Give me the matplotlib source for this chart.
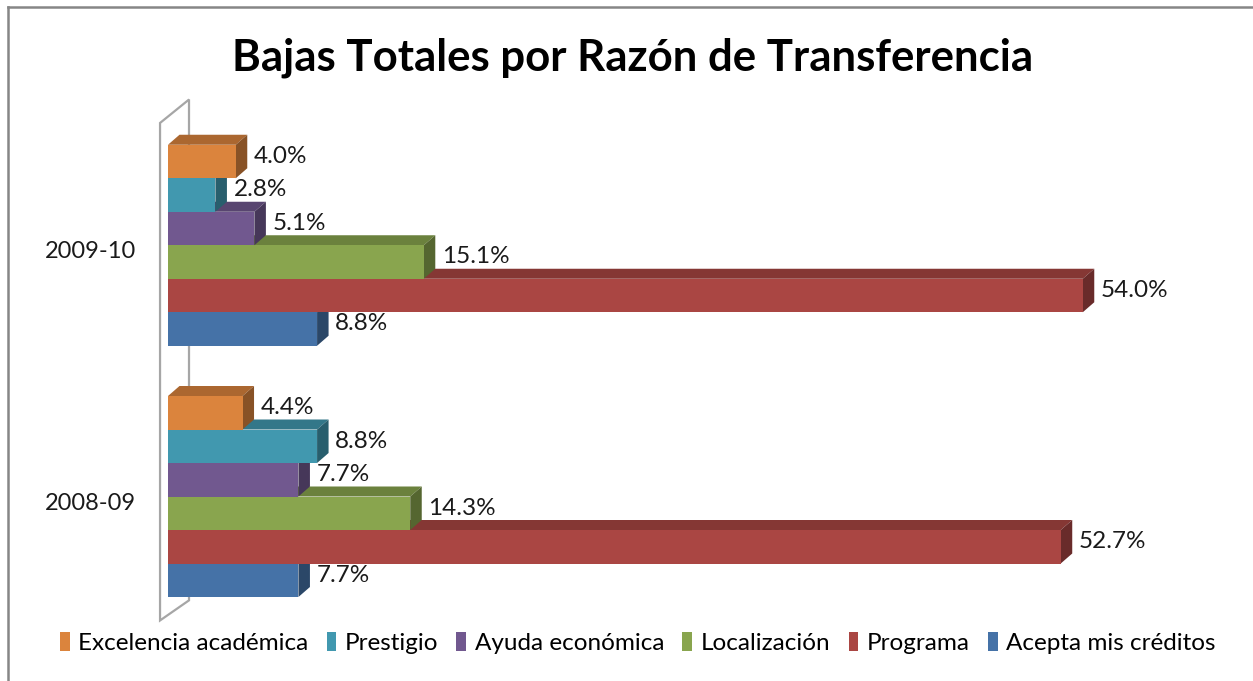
import matplotlib.pyplot as plt
from matplotlib.patches import Polygon, Rectangle
from matplotlib.lines import Line2D
import numpy as np

# data
years = ["2008-09", "2009-10"]
series = ["Excelencia académica", "Prestigio", "Ayuda económica",
          "Localización", "Programa", "Acepta mis créditos"]
values = {
    "2008-09": [4.4, 8.8, 7.7, 14.3, 52.7, 7.7],
    "2009-10": [4.0, 2.8, 5.1, 15.1, 54.0, 8.8],
}
colors = ["#DB843D", "#4198AF", "#71588F", "#89A54E", "#AA4643", "#4572A7"]
title = "Bajas Totales por Razón de Transferencia"

FONT = "Lato"
W, H = 1253, 681
GROUP_STEP = 7.5      # distance between year groups, in bar heights
DEPTH_PX = (11.5, 10)  # 3d depth offset in pixels


def shade(c, f):
    r, g, b = [int(c[i:i + 2], 16) / 255 for i in (1, 3, 5)]
    return (r * f, g * f, b * f)


def main():
    fig = plt.figure(figsize=(W / 100, H / 100), dpi=100)
    # axes placed so that 0% sits at x=168px and 1 bar = 33.5px
    ppx = 16.94
    ppy = 33.5
    x0, x1 = 0, 60
    left = 168
    y_lo, y_hi = -4.0, 12.1
    y0_px = 496.5  # pixel row of the 2008-09 group centre
    top = y0_px - y_hi * ppy
    bottom = y0_px - y_lo * ppy
    ax = fig.add_axes([left / W, 1 - bottom / H, (x1 - x0) * ppx / W, (bottom - top) / H])
    ax.set_xlim(x0, x1)
    ax.set_ylim(y_lo, y_hi)
    ax.set_axis_off()

    dx = DEPTH_PX[0] / ppx
    dy = DEPTH_PX[1] / ppy

    # back wall outline
    wall = Polygon([(-0.47, -3.7), (1.24, -3.1), (1.24, 11.85), (-0.47, 11.15)],
                   closed=True, facecolor="none", edgecolor="#A6A6A6", lw=1.6,
                   clip_on=False)
    ax.add_patch(wall)

    for g, yr in enumerate(years):
        centre = g * GROUP_STEP
        vals = values[yr]
        n = len(vals)
        # draw from bottom bar (last series) up, so upper bars cover lower tops
        for i in range(n - 1, -1, -1):
            v = vals[i]
            yb = centre + (n / 2 - 1 - i)
            yt = yb + 1
            c = colors[i]
            ax.add_patch(Polygon([(0, yt), (dx, yt + dy), (v + dx, yt + dy), (v, yt)],
                                 closed=True, facecolor=shade(c, 0.78), edgecolor="none"))
            ax.add_patch(Polygon([(v, yb), (v + dx, yb + dy), (v + dx, yt + dy), (v, yt)],
                                 closed=True, facecolor=shade(c, 0.62), edgecolor="none"))
            ax.add_patch(Rectangle((0, yb), v, 1, facecolor=c, edgecolor="none"))
            ax.text(v + dx + 0.4, yb + 0.65, f"{v:.1f}%", fontsize=17.5, family=FONT,
                    color="#1a1a1a", va="center", ha="left")
        ax.text(-1.9, centre - 0.2, yr, fontsize=17, family=FONT, color="#1a1a1a",
                ha="right", va="center")

    fig.text(0.505, 1 - 58 / H, title, fontsize=31.5, fontweight="bold", family=FONT,
             ha="center", va="center", color="black")

    handles = [Rectangle((0, 0), 1, 1, facecolor=c, edgecolor="none") for c in colors]
    fig.legend(handles, series, loc="center", bbox_to_anchor=(0.509, 1 - 643 / H),
               ncol=6, frameon=False, prop={"family": FONT, "size": 17.5},
               handlelength=0.4, handleheight=0.85, handletextpad=0.35,
               columnspacing=0.75, borderaxespad=0)

    # chart area border (top and left visible)
    fig.add_artist(Line2D([8 / W, 8 / W], [0, 1 - 7 / H], transform=fig.transFigure,
                          color="#868686", lw=1.8))
    fig.add_artist(Line2D([8 / W, 1], [1 - 7 / H, 1 - 7 / H], transform=fig.transFigure,
                          color="#868686", lw=1.8))

    fig.savefig("out.png", dpi=100)


if __name__ == "__main__":
    main()
